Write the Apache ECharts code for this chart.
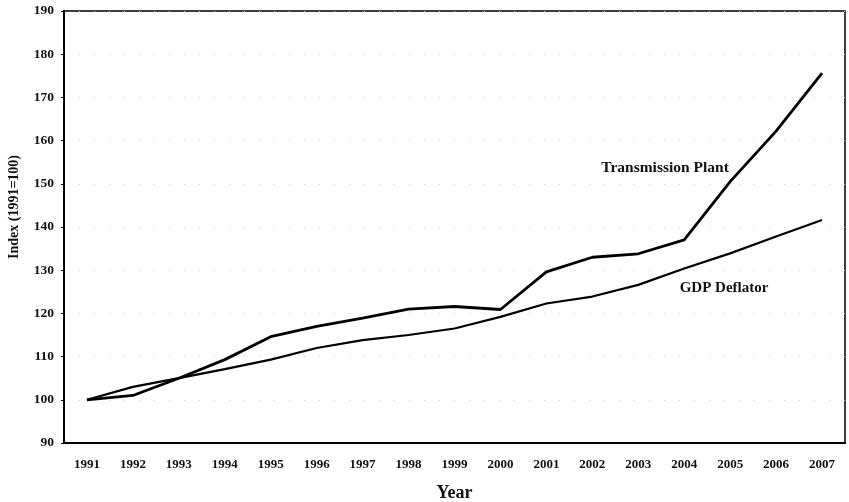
<!DOCTYPE html>
<html>
<head>
<meta charset="utf-8">
<script src="https://cdn.jsdelivr.net/npm/echarts@6/dist/echarts.min.js"></script>
<style>
html,body{margin:0;padding:0;background:#fff;}
#chart{width:849px;height:502px;}
</style>
</head>
<body>
<div id="chart"></div>
<script>
var years = ['1991','1992','1993','1994','1995','1996','1997','1998','1999','2000','2001','2002','2003','2004','2005','2006','2007'];
var transmissionPlant = [100, 101, 105, 109.3, 114.6, 117, 118.9, 121, 121.6, 120.9, 129.6, 133, 133.8, 137, 150.5, 162.2, 175.6];
var gdpDeflator = [100, 103, 105, 107.1, 109.3, 112, 113.8, 115, 116.5, 119.2, 122.3, 123.9, 126.6, 130.4, 133.9, 137.8, 141.6];
var yTicks = {min: 90, max: 190, interval: 10};

var font = '"Liberation Serif", "Times New Roman", serif';
var chart = echarts.init(document.getElementById('chart'), null, {renderer: 'canvas'});
chart.setOption({
  animation: false,
  backgroundColor: '#fff',
  grid: {left: 64, right: 4, top: 11, bottom: 59, outerBoundsMode: 'none', containLabel: false,
         show: true, borderColor: '#000', borderWidth: 1.5, backgroundColor: 'transparent'},
  xAxis: {
    type: 'category',
    data: years,
    boundaryGap: true,
    name: 'Year',
    nameLocation: 'middle',
    nameGap: 41,
    nameTextStyle: {fontFamily: font, fontWeight: 'bold', fontSize: 18, color: '#111'},
    axisLine: {lineStyle: {color: '#000', width: 2}},
    axisTick: {show: false},
    axisLabel: {fontFamily: font, fontWeight: 'bold', fontSize: 13, color: '#111', margin: 15, interval: 0},
    splitLine: {show: false}
  },
  yAxis: {
    type: 'value',
    min: yTicks.min, max: yTicks.max, interval: yTicks.interval,
    axisLine: {show: true, lineStyle: {color: '#000', width: 2}},
    axisTick: {show: true, length: 3, lineStyle: {color: '#000'}},
    axisLabel: {fontFamily: font, fontWeight: 'bold', fontSize: 13.5, color: '#111', margin: 10},
    splitLine: {show: true, lineStyle: {color: '#c4c4c4', width: 1, type: [1, 14]}}
  },
  series: [
    {
      name: 'Transmission Plant',
      type: 'line',
      data: transmissionPlant,
      symbol: 'none',
      lineStyle: {color: '#000', width: 2.8},
      z: 3
    },
    {
      name: 'GDP Deflator',
      type: 'line',
      data: gdpDeflator,
      symbol: 'none',
      lineStyle: {color: '#000', width: 2.2},
      z: 2
    }
  ],
  graphic: [
    {type: 'text', x: 14, y: 207, rotation: Math.PI / 2,
     style: {text: 'Index (1991=100)', font: 'bold 14px ' + font, fill: '#111', align: 'center', verticalAlign: 'middle'}},
    {type: 'text', x: 665, y: 168, style: {text: 'Transmission Plant', font: 'bold 15.5px ' + font, fill: '#111', align: 'center', verticalAlign: 'middle'}},
    {type: 'text', x: 724, y: 288, style: {text: 'GDP Deflator', font: 'bold 15px ' + font, fill: '#111', align: 'center', verticalAlign: 'middle'}}
  ]
});
</script>
</body>
</html>
